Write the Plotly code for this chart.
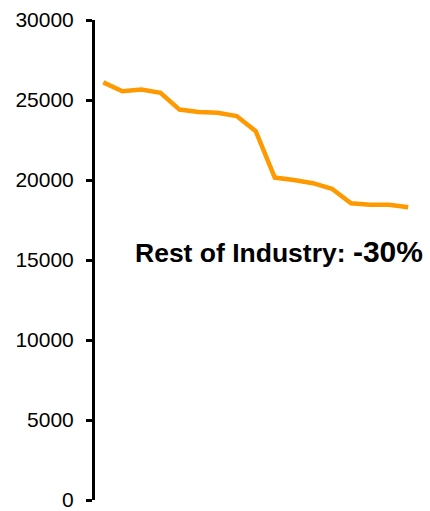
import plotly.graph_objects as go

periods = list(range(1, 18))
values = [26100, 25550, 25650, 25450, 24400, 24250, 24200, 24000, 23050,
          20150, 20000, 19800, 19450, 18550, 18450, 18450, 18300]
y_ticks = [0, 5000, 10000, 15000, 20000, 25000, 30000]
label_main = "Rest of Industry: "
label_pct = "-30%"

fig = go.Figure()
fig.add_trace(go.Scatter(
    x=periods, y=values, mode="lines",
    line=dict(color="#FF9900", width=4.5),
    hoverinfo="skip", showlegend=False,
))

fig.update_layout(
    width=430, height=511,
    margin=dict(l=95, r=10, t=20, b=11, autoexpand=False),
    paper_bgcolor="white", plot_bgcolor="white",
    font=dict(family="Liberation Sans, Arial, sans-serif", color="black"),
    xaxis=dict(visible=False, range=[0.565, 17.62]),
    yaxis=dict(
        range=[0, 30000], tickvals=y_ticks,
        ticktext=[str(v) for v in y_ticks],
        showgrid=False, zeroline=False,
        showline=True, linecolor="black", linewidth=3,
        ticks="outside", ticklen=6, tickwidth=3, tickcolor="black",
        tickfont=dict(size=21, color="black"),
        ticklabelstandoff=8,
        ticklabeloverflow="allow",
        automargin=False,
    ),
    annotations=[dict(
        x=1.015, y=15550, xref="paper", yref="y",
        xanchor="right", yanchor="middle", showarrow=False,
        text=(f"<span style='font-weight:bold'>{label_main}</span>"
              f"<span style='font-size:30px;font-weight:bold'>{label_pct}</span>"),
        font=dict(size=26.5, color="black"),
    )],
)

fig.write_html("out.html")
